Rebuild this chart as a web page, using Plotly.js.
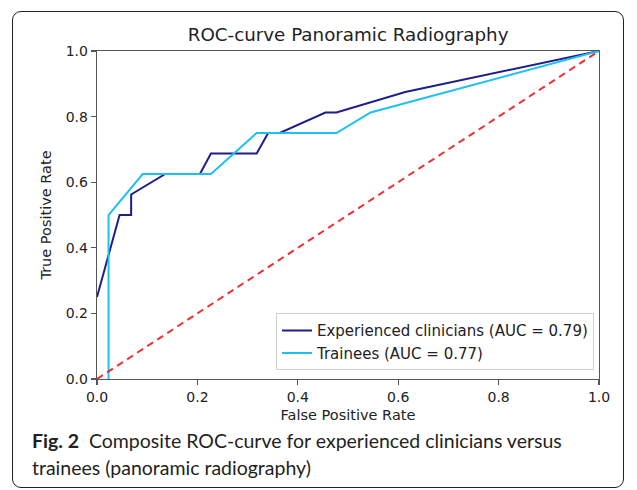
<!DOCTYPE html>
<html>
<head>
<meta charset="utf-8">
<script src="https://cdn.plot.ly/plotly-3.0.1.min.js"></script>
<style>
  html, body { margin: 0; padding: 0; background: #ffffff; }
  #frame { position: absolute; left: 12px; top: 11px; width: 612px; height: 477px;
           border: 1.3px solid #222; border-radius: 9px; box-sizing: border-box; }
  #chart { position: absolute; left: 0; top: 0; width: 637px; height: 490px; }
</style>
</head>
<body>
<div id="frame"></div>
<div id="chart"></div>
<script>
// Experienced clinicians ROC points
const expFpr = [0.0, 0.045, 0.068, 0.068, 0.136, 0.205, 0.227, 0.318, 0.341, 0.364, 0.455, 0.477, 0.614, 1.0];
const expTpr = [0.25, 0.5, 0.5, 0.5625, 0.625, 0.625, 0.6875, 0.6875, 0.75, 0.75, 0.8125, 0.8125, 0.875, 1.0];
// Trainees ROC points
const trnFpr = [0.023, 0.023, 0.091, 0.227, 0.318, 0.477, 0.545, 1.0];
const trnTpr = [0.0, 0.5, 0.625, 0.625, 0.75, 0.75, 0.8125, 1.0];
// Chance line
const chanceX = [0, 1];
const chanceY = [0, 1];
const legendNames = ["Experienced clinicians (AUC = 0.79)", "Trainees (AUC = 0.77)"];
const tickVals = [0.0, 0.2, 0.4, 0.6, 0.8, 1.0];
const tickText = ["0.0", "0.2", "0.4", "0.6", "0.8", "1.0"];

const traces = [
  { x: expFpr, y: expTpr, mode: 'lines', name: legendNames[0],
    line: { color: '#1f1f8a', width: 2 } },
  { x: trnFpr, y: trnTpr, mode: 'lines', name: legendNames[1],
    line: { color: '#1ec0f2', width: 2 } },
  { x: chanceX, y: chanceY, mode: 'lines', showlegend: false,
    line: { color: '#f03030', width: 2, dash: '7px,5px' } }
];

const axisCommon = {
  range: [0, 1], tickvals: tickVals, ticktext: tickText,
  showline: true, mirror: true, linecolor: '#555', linewidth: 1.3,
  ticks: 'outside', ticklen: 5, tickcolor: '#555', tickwidth: 1.2,
  showgrid: false, zeroline: false,
  tickfont: { family: 'DejaVu Sans', size: 14, color: '#222' }
};

const layout = {
  width: 637, height: 490,
  margin: { l: 97, r: 38, t: 51, b: 111 },
  paper_bgcolor: 'rgba(0,0,0,0)', plot_bgcolor: '#ffffff',
  title: { text: 'ROC-curve Panoramic Radiography', x: 0.5465, xanchor: 'center',
           y: 1 - 35 / 490, yanchor: 'middle', yref: 'container',
           font: { family: 'DejaVu Sans', size: 18.3, color: '#222' } },
  xaxis: Object.assign({}, axisCommon, {
    title: { text: 'False Positive Rate', standoff: 5,
             font: { family: 'DejaVu Sans', size: 14.5, color: '#222' } } }),
  yaxis: Object.assign({}, axisCommon, {
    title: { text: 'True Positive Rate', standoff: 10,
             font: { family: 'DejaVu Sans', size: 14.5, color: '#222' } } }),
  legend: { x: 0.99, xanchor: 'right', y: 0.027, yanchor: 'bottom',
            bgcolor: '#ffffff', bordercolor: '#d0d0d0', borderwidth: 1,
            font: { family: 'DejaVu Sans', size: 15, color: '#222' },
            tracegroupgap: 0 },
  annotations: [
    { text: '<b>Fig. 2</b>  Composite ROC-curve for experienced clinicians versus',
      xref: 'paper', yref: 'paper', x: (30 - 97) / 502, y: (379 - 440) / 328,
      xanchor: 'left', yanchor: 'middle', showarrow: false,
      font: { family: 'Lato', size: 19.5, color: '#231f20' } },
    { text: 'trainees (panoramic radiography)',
      xref: 'paper', yref: 'paper', x: (30 - 97) / 502, y: (379 - 467) / 328,
      xanchor: 'left', yanchor: 'middle', showarrow: false,
      font: { family: 'Lato', size: 19.5, color: '#231f20' } }
  ]
};

Plotly.newPlot('chart', traces, layout, { displayModeBar: false, staticPlot: true });
</script>
</body>
</html>
